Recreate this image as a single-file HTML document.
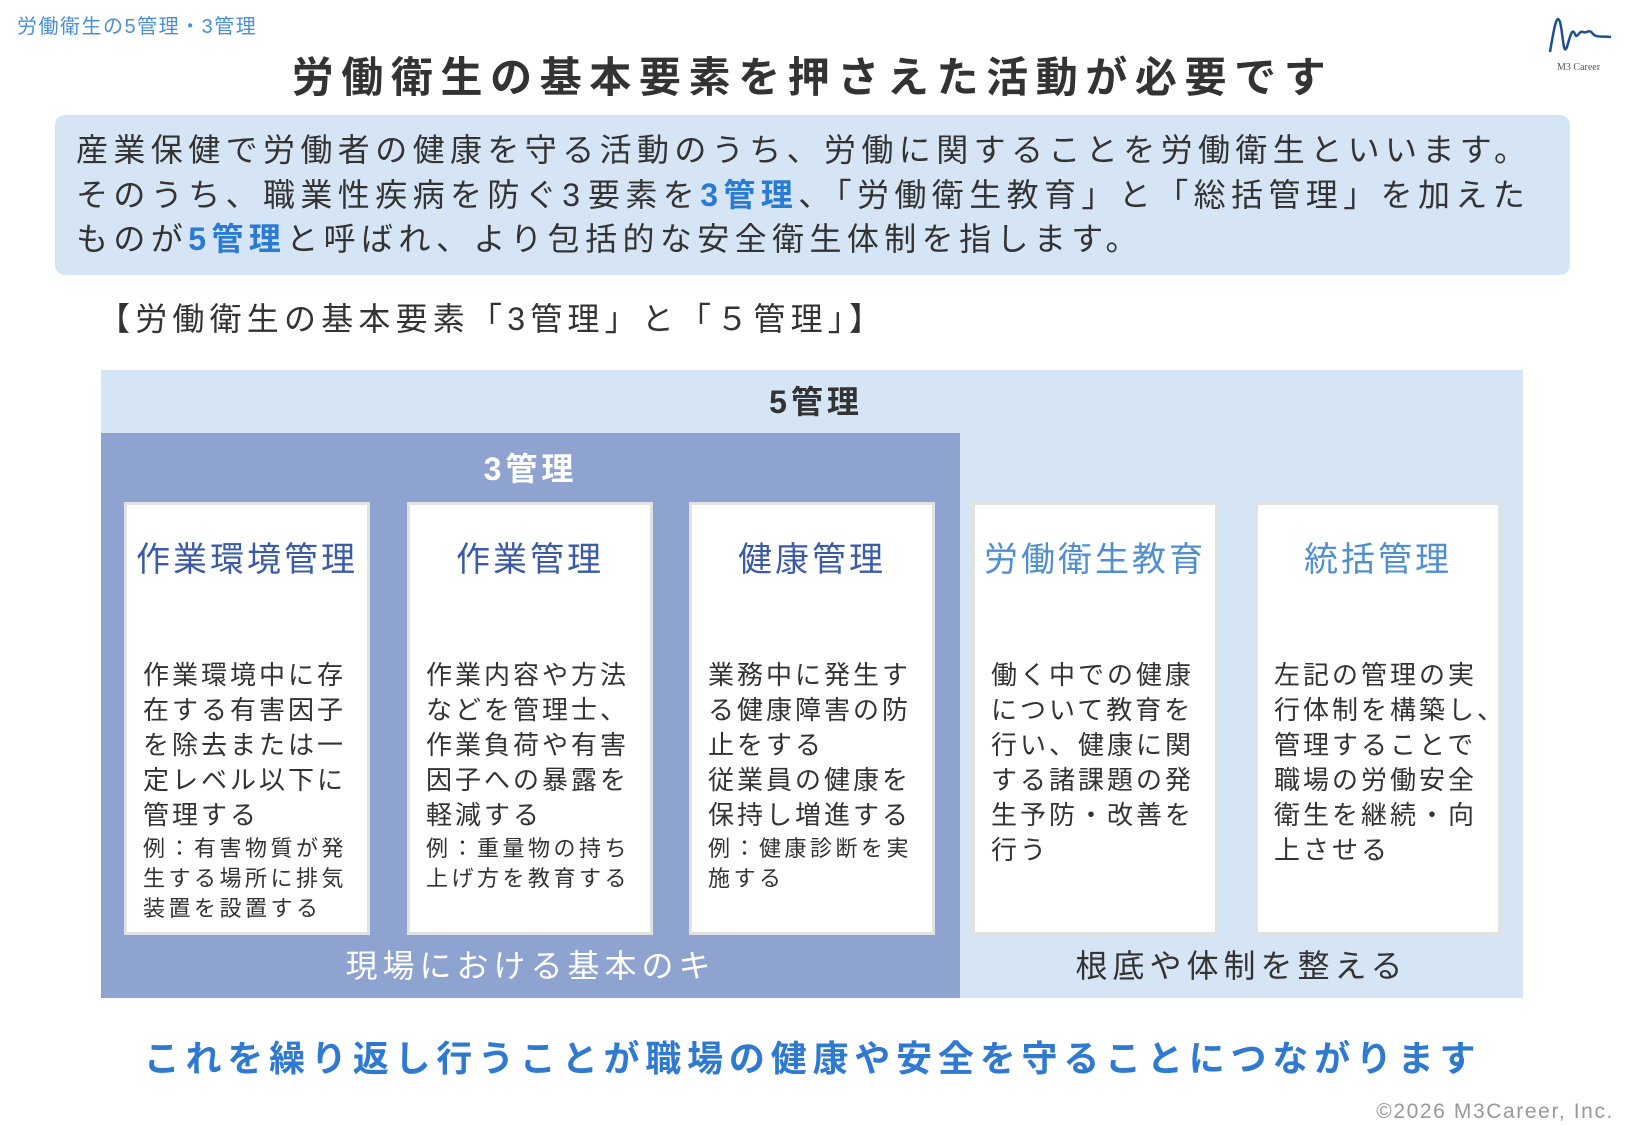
<!DOCTYPE html>
<html><head><meta charset="utf-8"><style>
*{margin:0;padding:0;box-sizing:border-box}
body{width:1625px;height:1125px;background:#fff;position:relative;overflow:hidden;font-family:"Liberation Sans","Noto Sans CJK JP",sans-serif;color:#333}
.a{position:absolute;white-space:nowrap}
.card{position:absolute;top:502px;width:246px;height:433px;background:#fff;border:3px solid #e2e2e2}
.ct{position:absolute;left:0;width:100%;text-align:center;top:538px;font-size:34px;line-height:44px;letter-spacing:3px}
.bd{position:absolute;font-size:26px;line-height:35px;letter-spacing:3px;color:#333}
.ex{position:absolute;font-size:22px;line-height:30px;letter-spacing:3.5px;color:#333}
b.h{color:#2b7bd4}
</style></head><body>
<div class="a" style="left:17px;top:14px;font-size:20px;line-height:26px;letter-spacing:1.5px;color:#4a8fd6">労働衛生の5管理・3管理</div>
<svg class="a" style="left:1545px;top:12px" width="70" height="50" viewBox="0 0 70 50"><path d="M5 40 C10 10,12 2,15 10 C18 20,18 45,22 35 C25 25,27 15,30 22 C32 28,34 18,38 20 C42 22,44 16,48 22 C52 26,58 24,66 25" fill="none" stroke="#1f4f8f" stroke-width="2.5"/></svg>
<div class="a" style="left:1557px;top:62px;font-size:10px;font-family:'Liberation Serif',serif;color:#555">M3 Career</div>
<div class="a" style="left:0;width:1625px;text-align:center;top:53px;font-size:42px;line-height:50px;font-weight:bold;letter-spacing:7.6px;color:#333">労働衛生の基本要素を押さえた活動が必要です</div>
<div class="a" style="left:55px;top:115px;width:1515px;height:160px;background:#d6e5f5;border-radius:10px"></div>
<div class="a" style="left:76px;top:128px;font-size:32px;line-height:44.5px;letter-spacing:5.4px;color:#333">産業保健で労働者の健康を守る活動のうち、労働に関することを労働衛生といいます。<br>そのうち、職業性疾病を防ぐ<span style="letter-spacing:8px">3</span>要素を<b class="h">3管理</b>、「労働衛生教育」と「総括管理」を加えた<br>ものが<b class="h">5管理</b>と呼ばれ、より包括的な安全衛生体制を指します。</div>
<div class="a" style="left:98px;top:298px;font-size:32px;line-height:42px;letter-spacing:5.2px">【労働衛生の基本要素「3管理」と「５管理」】</div>
<div class="a" style="left:101px;top:370px;width:1422px;height:628px;background:#d5e5f6"></div>
<div class="a" style="left:101px;top:380px;width:1422px;text-align:center;font-size:32px;line-height:44px;font-weight:bold;letter-spacing:4px;padding-left:8px">5管理</div>
<div class="a" style="left:101px;top:433px;width:859px;height:565px;background:#8fa3d0"></div>
<div class="a" style="left:101px;top:447px;width:859px;text-align:center;font-size:32px;line-height:44px;font-weight:bold;letter-spacing:4px;color:#fff">3管理</div>

<div class="card" style="left:124px"></div>
<div class="card" style="left:407px"></div>
<div class="card" style="left:689px"></div>
<div class="card" style="left:972px"></div>
<div class="card" style="left:1255px"></div>

<div class="a" style="left:124px;width:246px;top:0;height:1125px">
<div class="ct" style="color:#3b5ba8">作業環境管理</div>
<div class="bd" style="left:19px;top:658px">作業環境中に存<br>在する有害因子<br>を除去または一<br>定レベル以下に<br>管理する</div>
<div class="ex" style="left:19px;top:834px">例：有害物質が発<br>生する場所に排気<br>装置を設置する</div></div>

<div class="a" style="left:407px;width:246px;top:0;height:1125px">
<div class="ct" style="color:#3b5ba8">作業管理</div>
<div class="bd" style="left:19px;top:658px">作業内容や方法<br>などを管理士、<br>作業負荷や有害<br>因子への暴露を<br>軽減する</div>
<div class="ex" style="left:19px;top:834px">例：重量物の持ち<br>上げ方を教育する</div></div>

<div class="a" style="left:689px;width:246px;top:0;height:1125px">
<div class="ct" style="color:#3b5ba8">健康管理</div>
<div class="bd" style="left:19px;top:658px">業務中に発生す<br>る健康障害の防<br>止をする<br>従業員の健康を<br>保持し増進する</div>
<div class="ex" style="left:19px;top:834px">例：健康診断を実<br>施する</div></div>

<div class="a" style="left:972px;width:246px;top:0;height:1125px">
<div class="ct" style="color:#4f8fd0">労働衛生教育</div>
<div class="bd" style="left:19px;top:658px">働く中での健康<br>について教育を<br>行い、健康に関<br>する諸課題の発<br>生予防・改善を<br>行う</div></div>

<div class="a" style="left:1255px;width:246px;top:0;height:1125px">
<div class="ct" style="color:#4f8fd0">統括管理</div>
<div class="bd" style="left:19px;top:658px">左記の管理の実<br>行体制を構築し、<br>管理することで<br>職場の労働安全<br>衛生を継続・向<br>上させる</div></div>

<div class="a" style="left:101px;width:859px;text-align:center;top:944px;font-size:32px;line-height:44px;letter-spacing:5px;color:#fff">現場における基本のキ</div>
<div class="a" style="left:960px;width:563px;text-align:center;top:944px;font-size:32px;line-height:44px;letter-spacing:5px;color:#333">根底や体制を整える</div>
<div class="a" style="left:0;width:1625px;text-align:center;top:1035px;font-size:36px;line-height:48px;font-weight:bold;letter-spacing:5.8px;color:#2f7ad0">これを繰り返し行うことが職場の健康や安全を守ることにつながります</div>
<div class="a" style="right:11px;top:1099px;font-size:21px;line-height:26px;color:#999;letter-spacing:1.6px">©2026 M3Career, Inc.</div>
</body></html>
